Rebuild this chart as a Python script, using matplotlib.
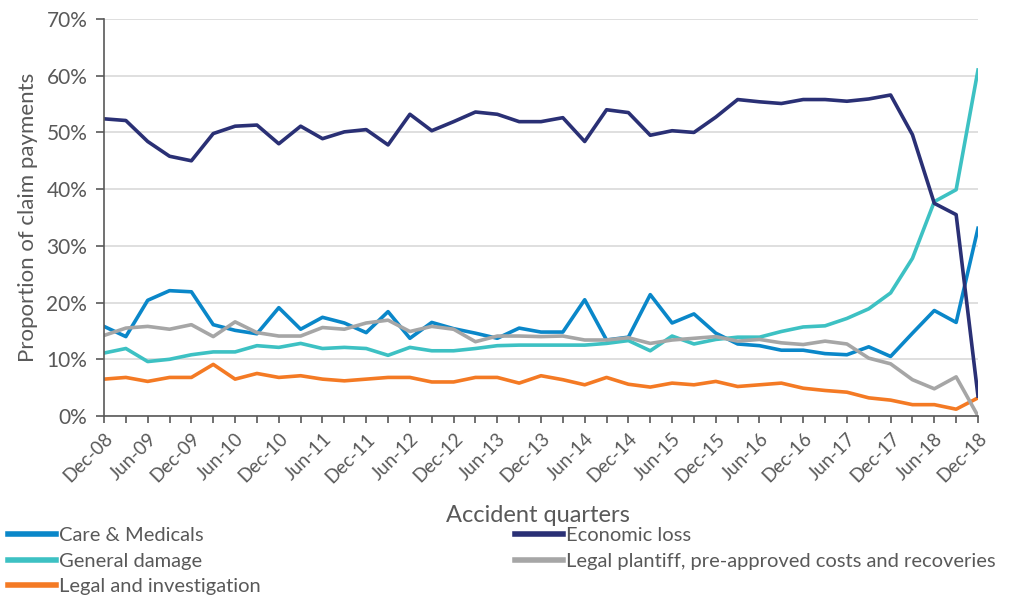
import numpy as np
import matplotlib
matplotlib.use('Agg')
import matplotlib.pyplot as plt
from matplotlib.ticker import PercentFormatter

plt.rcParams['font.family'] = ['Lato', 'DejaVu Sans']

# accident quarters Dec-08 .. Dec-18
quarters = []
for yr in range(8, 19):
    for mon in ['Mar', 'Jun', 'Sep', 'Dec']:
        quarters.append(f"{mon}-{yr:02d}")
quarters = quarters[3:]  # start at Dec-08

care_medicals = [15.8, 14.0, 20.4, 22.1, 21.9, 16.1, 15.1, 14.5, 19.1, 15.3, 17.4, 16.4, 14.7,
                 18.4, 13.7, 16.5, 15.4, 14.6, 13.7, 15.5, 14.8, 14.8, 20.5, 13.4, 13.9, 21.4,
                 16.4, 18.0, 14.6, 12.7, 12.4, 11.6, 11.6, 11.0, 10.8, 12.2, 10.5, 14.6, 18.6,
                 16.5, 33.1]
economic_loss = [52.4, 52.1, 48.4, 45.8, 45.0, 49.8, 51.1, 51.3, 48.0, 51.1, 48.9, 50.1, 50.5,
                 47.8, 53.2, 50.3, 51.9, 53.6, 53.2, 51.9, 51.9, 52.6, 48.4, 54.0, 53.5, 49.5,
                 50.3, 50.0, 52.7, 55.8, 55.4, 55.1, 55.8, 55.8, 55.5, 55.9, 56.6, 49.6, 37.5,
                 35.5, 3.5]
general_damage = [11.1, 11.9, 9.6, 10.0, 10.8, 11.3, 11.3, 12.4, 12.1, 12.8, 11.9, 12.1, 11.9,
                  10.7, 12.1, 11.5, 11.5, 11.9, 12.4, 12.5, 12.5, 12.5, 12.5, 12.8, 13.3, 11.5,
                  14.1, 12.7, 13.5, 13.9, 13.9, 14.9, 15.7, 15.9, 17.2, 18.9, 21.7, 27.8, 37.8,
                  39.9, 61.0]
legal_plantiff = [14.2, 15.5, 15.8, 15.3, 16.1, 14.0, 16.6, 14.7, 14.1, 14.1, 15.6, 15.3, 16.4,
                  16.9, 14.9, 15.8, 15.3, 13.1, 14.1, 14.1, 14.0, 14.1, 13.4, 13.4, 13.8, 12.8,
                  13.4, 13.7, 14.0, 13.2, 13.5, 12.9, 12.6, 13.2, 12.7, 10.2, 9.2, 6.4, 4.8,
                  6.9, 0.0]
legal_investigation = [6.5, 6.8, 6.1, 6.8, 6.8, 9.1, 6.5, 7.5, 6.8, 7.1, 6.5, 6.2, 6.5,
                       6.8, 6.8, 6.0, 6.0, 6.8, 6.8, 5.8, 7.1, 6.4, 5.5, 6.8, 5.6, 5.1,
                       5.8, 5.5, 6.1, 5.2, 5.5, 5.8, 4.9, 4.5, 4.2, 3.2, 2.8, 2.0, 2.0,
                       1.2, 3.2]

colors = {
    'care': '#0A87C9',
    'econ': '#2A3075',
    'general': '#3DC1C3',
    'plantiff': '#A6A6A6',
    'legal': '#F47A24',
}
text_c = '#595959'

fig = plt.figure(figsize=(10.12, 5.97), dpi=100)
ax = fig.add_axes([104 / 1012, 1 - 416 / 597, (978 - 104) / 1012, (416 - 19) / 597])

x = np.arange(len(quarters))
lw = 2.6
l1, = ax.plot(x, care_medicals, color=colors['care'], lw=lw, label='Care & Medicals')
l2, = ax.plot(x, general_damage, color=colors['general'], lw=lw, label='General damage')
l3, = ax.plot(x, legal_investigation, color=colors['legal'], lw=lw, label='Legal and investigation')
l4, = ax.plot(x, economic_loss, color=colors['econ'], lw=lw, label='Economic loss')
l5, = ax.plot(x, legal_plantiff, color=colors['plantiff'], lw=lw,
              label='Legal plantiff, pre-approved costs and recoveries')

ax.set_xlim(0, len(quarters) - 1)
ax.set_ylim(0, 70)
ax.yaxis.set_major_formatter(PercentFormatter(decimals=0))
ax.set_yticks(np.arange(0, 71, 10))
ax.set_xticks(x)
ax.set_xticklabels([q if i % 2 == 0 else '' for i, q in enumerate(quarters)],
                   rotation=45, ha='right', rotation_mode='anchor')

ax.grid(axis='y', color='#D9D9D9', lw=1.2)
ax.set_axisbelow(True)
for s in ['top', 'right']:
    ax.spines[s].set_visible(False)
for s in ['left', 'bottom']:
    ax.spines[s].set_color('#595959')
    ax.spines[s].set_linewidth(1.2)
ax.tick_params(axis='x', colors='#595959', labelcolor=text_c, labelsize=13.5, length=5,
               width=1.2, pad=5)
ax.tick_params(axis='y', colors='#595959', labelcolor=text_c, labelsize=15, length=6,
               width=1.2, pad=6)

ax.set_ylabel('Proportion of claim payments', fontsize=16, color=text_c, labelpad=6)
fig.text(538 / 1012, 1 - 515 / 597, 'Accident quarters', fontsize=17, color=text_c,
         ha='center', va='center')

leg_kw = dict(loc='upper left', frameon=False, fontsize=14.5, labelcolor=text_c,
              handlelength=2.4, handletextpad=0.15, labelspacing=0.42,
              borderaxespad=0, borderpad=0)
leg1 = fig.legend(handles=[l1, l2, l3], bbox_to_anchor=(8 / 1012, 1 - 527 / 597), **leg_kw)
leg2 = fig.legend(handles=[l4, l5], bbox_to_anchor=(515 / 1012, 1 - 527 / 597), **leg_kw)
for lg in (leg1, leg2):
    for h in lg.get_lines():
        h.set_linewidth(4)

plt.savefig('out.png', dpi=100, facecolor='white')
